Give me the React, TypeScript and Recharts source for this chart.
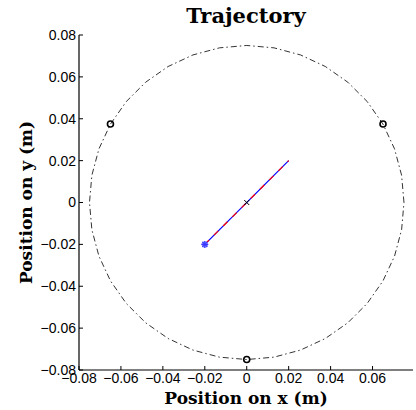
import { ScatterChart, Scatter, XAxis, YAxis, Label } from "recharts";

// circle of radius 0.075, every 10 degrees
const CIRCLE_X = [
  0.075, 0.07386, 0.07048, 0.06495, 0.05745, 0.04821, 0.0375, 0.02565, 0.01302, 0,
  -0.01302, -0.02565, -0.0375, -0.04821, -0.05745, -0.06495, -0.07048, -0.07386, -0.075,
  -0.07386, -0.07048, -0.06495, -0.05745, -0.04821, -0.0375, -0.02565, -0.01302, 0,
  0.01302, 0.02565, 0.0375, 0.04821, 0.05745, 0.06495, 0.07048, 0.07386, 0.075,
];
const CIRCLE_Y = [
  0, 0.01302, 0.02565, 0.0375, 0.04821, 0.05745, 0.06495, 0.07048, 0.07386, 0.075,
  0.07386, 0.07048, 0.06495, 0.05745, 0.04821, 0.0375, 0.02565, 0.01302, 0,
  -0.01302, -0.02565, -0.0375, -0.04821, -0.05745, -0.06495, -0.07048, -0.07386, -0.075,
  -0.07386, -0.07048, -0.06495, -0.05745, -0.04821, -0.0375, -0.02565, -0.01302, 0,
];

const PATH_X = [-0.02, 0.02];
const PATH_Y = [-0.02, 0.02];

const ANCHOR_X = [-0.065, 0.065, 0];
const ANCHOR_Y = [0.0375, 0.0375, -0.075];

const START = { x: -0.02, y: -0.02 };
const CENTER = { x: 0, y: 0 };

const X_TICKS = [-0.08, -0.06, -0.04, -0.02, 0, 0.02, 0.04, 0.06];
const Y_TICKS = [-0.08, -0.06, -0.04, -0.02, 0, 0.02, 0.04, 0.06, 0.08];

const zip = (xs: number[], ys: number[]) => xs.map((x, i) => ({ x, y: ys[i] }));

const circleData = zip(CIRCLE_X, CIRCLE_Y);
const pathData = zip(PATH_X, PATH_Y);
const anchorData = zip(ANCHOR_X, ANCHOR_Y);

const fmt = (v: number) => {
  if (Math.abs(v) < 1e-9) return "0";
  const s = Math.abs(v).toFixed(2);
  return v < 0 ? "\u2212" + s : s;
};

const tickFont = { fontFamily: "Liberation Sans, Arial, sans-serif", fontSize: 14, fill: "#000" };
const labelFont = { fontFamily: "DejaVu Serif, serif", fontSize: 17, fontWeight: "bold", fill: "#000" };

const NoDot = () => null;

const OpenCircle = (props: any) => (
  <circle cx={props.cx} cy={props.cy} r={3} fill="none" stroke="#000" strokeWidth={1.6} />
);

const BlueStar = (props: any) => {
  const { cx, cy } = props;
  return (
    <g stroke="#3a3aff" strokeWidth={1.2}>
      <circle cx={cx} cy={cy} r={3.2} fill="#9090ff" stroke="none" />
      <line x1={cx - 3.5} y1={cy} x2={cx + 3.5} y2={cy} />
      <line x1={cx} y1={cy - 3.5} x2={cx} y2={cy + 3.5} />
      <line x1={cx - 2.5} y1={cy - 2.5} x2={cx + 2.5} y2={cy + 2.5} />
      <line x1={cx - 2.5} y1={cy + 2.5} x2={cx + 2.5} y2={cy - 2.5} />
    </g>
  );
};

const Cross = (props: any) => {
  const { cx, cy } = props;
  return (
    <g stroke="#000" strokeWidth={1}>
      <line x1={cx - 2.5} y1={cy - 2.5} x2={cx + 2.5} y2={cy + 2.5} />
      <line x1={cx - 2.5} y1={cy + 2.5} x2={cx + 2.5} y2={cy - 2.5} />
    </g>
  );
};

export default function App() {
  return (
    <div style={{ position: "absolute", left: 0, top: 0, width: 416, height: 410, background: "#fff" }}>
      <ScatterChart width={416} height={410} margin={{ top: 35, right: 3, bottom: 0, left: 0 }}>
        <XAxis
          xAxisId="b"
          type="number"
          dataKey="x"
          domain={[-0.08, 0.0793]}
          ticks={X_TICKS}
          tickFormatter={fmt}
          allowDataOverflow
          height={40}
          tick={tickFont}
          tickSize={-4}
          tickMargin={7}
          tickLine={{ stroke: "#000" }}
          axisLine={{ stroke: "#000", strokeWidth: 1.2 }}
        >
          <Label value="Position on x (m)" position="insideBottom" offset={6} style={labelFont} />
        </XAxis>
        <XAxis
          xAxisId="t"
          orientation="top"
          type="number"
          dataKey="x"
          domain={[-0.08, 0.0793]}
          ticks={X_TICKS}
          allowDataOverflow
          height={0}
          tick={false}
          tickSize={-4}
          tickLine={{ stroke: "#000" }}
          axisLine={{ stroke: "#000", strokeWidth: 1.2 }}
        />
        <YAxis
          yAxisId="l"
          type="number"
          dataKey="y"
          domain={[-0.08, 0.08]}
          ticks={Y_TICKS}
          tickFormatter={fmt}
          allowDataOverflow
          width={79}
          tick={tickFont}
          tickSize={-4}
          tickMargin={7}
          tickLine={{ stroke: "#000" }}
          axisLine={{ stroke: "#000", strokeWidth: 1.2 }}
        >
          <Label
            value="Position on y (m)"
            angle={-90}
            position="insideLeft"
            offset={26}
            style={{ ...labelFont, textAnchor: "middle" }}
          />
        </YAxis>
        <YAxis
          yAxisId="r"
          orientation="right"
          type="number"
          dataKey="y"
          domain={[-0.08, 0.08]}
          ticks={Y_TICKS}
          allowDataOverflow
          width={0}
          tick={false}
          tickSize={-4}
          tickLine={{ stroke: "#000" }}
          axisLine={{ stroke: "#000", strokeWidth: 1.2 }}
        />
        <Scatter
          xAxisId="b"
          yAxisId="l"
          data={circleData}
          line={{ stroke: "#000", strokeWidth: 0.8, strokeDasharray: "6 3 1.5 3" }}
          lineType="joint"
          shape={NoDot}
          isAnimationActive={false}
        />
        <Scatter
          xAxisId="b"
          yAxisId="l"
          data={pathData}
          line={{ stroke: "#0000ff", strokeWidth: 1.2 }}
          lineType="joint"
          shape={NoDot}
          isAnimationActive={false}
        />
        <Scatter
          xAxisId="b"
          yAxisId="l"
          data={pathData}
          line={{ stroke: "#ff0000", strokeWidth: 1.2, strokeDasharray: "6 7" }}
          lineType="joint"
          shape={NoDot}
          isAnimationActive={false}
        />
        <Scatter xAxisId="b" yAxisId="l" data={anchorData} shape={OpenCircle} isAnimationActive={false} />
        <Scatter xAxisId="b" yAxisId="l" data={[START]} shape={BlueStar} isAnimationActive={false} />
        <Scatter xAxisId="b" yAxisId="l" data={[CENTER]} shape={Cross} isAnimationActive={false} />
      </ScatterChart>
      <div
        style={{
          position: "absolute",
          left: 79,
          top: 3,
          width: 334,
          textAlign: "center",
          fontFamily: "DejaVu Serif, serif",
          fontSize: 21,
          fontWeight: "bold",
          lineHeight: "26px",
          color: "#000",
        }}
      >
        Trajectory
      </div>
    </div>
  );
}
